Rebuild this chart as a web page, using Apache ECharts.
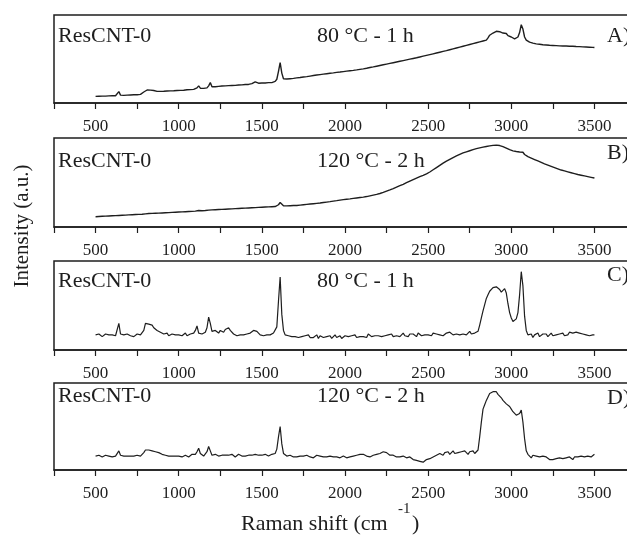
<!DOCTYPE html>
<html><head><meta charset="utf-8">
<script src="https://cdn.jsdelivr.net/npm/echarts@6/dist/echarts.min.js"></script>
<style>html,body{margin:0;padding:0;background:#fff}#c{width:627px;height:541px}</style>
</head><body><div id="c"></div>
<script>
// Raman shift sample positions (cm-1): 500..3500, every 10
const shiftStart = 500, shiftStep = 10, shiftCount = 301;
const ramanShift = [];
for (let i = 0; i < shiftCount; i++) ramanShift.push(shiftStart + i * shiftStep);

const tickLabels = [500, 1000, 1500, 2000, 2500, 3000, 3500];
const sampleNames = ['ResCNT-0', 'ResCNT-0', 'ResCNT-0', 'ResCNT-0'];
const conditions = ['80 °C - 1 h', '120 °C - 2 h', '80 °C - 1 h', '120 °C - 2 h'];
const panelLetters = ['A)', 'B)', 'C)', 'D)'];

// Panel A: 80 °C - 1 h (raw, with fluorescence background)
const panelA = [
7.5,7.6,7.7,7.6,7.8,7.9,7.8,8.0,8.1,8.0,
8.2,8.3,8.2,8.5,13.0,9.0,8.6,8.7,8.8,8.9,
9.0,9.1,9.0,9.3,9.4,9.3,9.6,9.8,10.5,12.5,
14.0,14.8,15.0,14.6,14.8,14.2,13.6,13.2,13.0,13.2,
13.4,13.3,13.5,13.7,13.6,13.8,14.0,13.9,14.1,14.2,
14.3,14.4,14.6,14.5,14.8,15.0,14.9,15.2,15.4,15.5,
15.8,17.2,19.5,16.8,16.4,16.6,16.9,17.2,19.5,23.2,
18.4,18.2,18.5,18.7,18.9,19.0,19.3,19.2,19.5,19.6,
19.8,19.6,19.9,20.1,20.0,20.3,20.4,20.2,20.6,20.8,
21.0,21.2,21.1,21.5,22.0,23.0,24.0,23.2,22.5,22.6,
22.7,22.9,22.8,23.0,23.1,23.3,23.2,23.6,24.5,27.0,
36.0,46.0,34.0,27.5,27.0,27.2,27.4,27.6,27.8,28.0,
28.3,28.5,28.8,29.0,29.3,29.6,29.8,30.0,30.3,30.6,
31.0,31.2,31.5,31.8,32.0,32.3,32.5,32.8,33.0,33.3,
33.6,33.8,34.0,34.2,34.5,34.8,35.0,35.2,35.4,35.7,
36.0,36.2,36.4,36.7,36.9,37.1,37.4,37.6,37.9,38.2,
38.5,38.8,39.2,39.5,39.9,40.3,40.7,41.0,41.4,41.8,
42.2,42.6,43.0,43.4,43.8,44.2,44.6,45.0,45.4,45.8,
46.2,46.6,47.0,47.4,47.8,48.2,48.6,49.0,49.4,49.8,
50.2,50.6,51.0,51.4,51.9,52.3,52.8,53.2,53.7,54.1,
54.5,55.0,55.4,55.9,56.3,56.8,57.2,57.7,58.1,58.6,
59.0,59.5,60.0,60.5,61.0,61.5,62.0,62.5,63.0,63.5,
64.0,64.5,65.0,65.5,66.0,66.5,67.0,67.5,68.0,68.5,
69.0,69.5,70.0,70.5,71.0,71.5,74.0,77.0,78.5,79.5,
81.0,81.5,82.0,81.0,80.0,79.5,80.0,79.0,76.5,75.5,
75.0,74.0,73.0,73.5,75.0,80.0,89.0,84.0,75.0,71.5,
70.0,69.2,68.5,68.0,67.6,67.2,67.0,66.7,66.5,66.2,
66.0,65.9,65.8,65.6,65.5,65.4,65.3,65.2,65.0,64.9,
65.0,64.8,64.7,64.8,64.6,64.5,64.4,64.5,64.3,64.2,
64.0,64.1,63.9,63.8,63.7,63.6,63.5,63.4,63.3,63.2,
63.0];

// Panel B: 120 °C - 2 h (raw)
const panelB = [
11.6,11.7,11.8,11.9,12.0,12.1,12.2,12.3,12.4,12.5,
12.6,12.7,12.8,12.9,13.0,13.1,13.2,13.3,13.4,13.5,
13.6,13.7,13.8,13.9,14.0,14.1,14.2,14.3,14.4,14.6,
14.8,15.0,15.1,15.2,15.3,15.4,15.5,15.6,15.6,15.7,
15.8,15.9,16.0,16.1,16.2,16.3,16.4,16.5,16.6,16.7,
16.8,16.9,17.0,17.1,17.2,17.3,17.4,17.5,17.6,17.7,
17.8,17.9,18.5,18.1,18.2,18.3,18.5,18.7,19.0,19.6,
19.2,19.3,19.4,19.5,19.6,19.7,19.8,19.9,20.0,20.1,
20.2,20.3,20.4,20.5,20.6,20.7,20.8,20.9,21.0,21.1,
21.2,21.3,21.4,21.5,21.6,21.7,21.8,21.9,22.0,22.1,
22.2,22.3,22.4,22.5,22.6,22.7,22.8,22.9,23.0,23.3,
25.0,27.5,25.5,23.8,23.6,23.7,23.8,23.9,24.0,24.1,
24.0,24.2,24.4,24.6,24.8,25.0,25.2,25.4,25.6,25.8,
26.0,26.2,26.4,26.6,26.8,27.0,27.3,27.5,27.7,28.0,
28.2,28.5,28.8,29.1,29.3,29.6,29.9,30.2,30.5,30.8,
31.0,31.2,31.4,31.6,31.8,32.1,32.4,32.6,32.9,33.1,
33.3,33.6,33.9,34.2,34.6,35.0,35.4,35.8,36.2,36.6,
37.0,37.6,38.2,38.9,39.6,40.3,41.0,41.7,42.5,43.2,
44.0,44.8,45.6,46.4,47.2,48.0,48.9,49.8,50.7,51.6,
52.5,53.3,54.1,54.9,55.7,56.5,57.3,58.1,58.9,59.8,
60.6,61.8,63.0,64.3,65.6,66.8,68.0,69.3,70.6,71.8,
73.0,74.0,75.0,76.0,77.0,78.0,78.9,79.8,80.7,81.6,
82.5,83.2,83.8,84.5,85.1,85.7,86.3,86.9,87.4,88.0,
88.5,88.9,89.3,89.7,90.1,90.5,90.8,91.1,91.4,91.7,
92.0,92.0,91.8,91.5,91.0,90.3,89.5,88.7,87.8,86.9,
86.0,85.6,85.2,84.8,84.5,84.2,85.0,84.0,81.5,80.2,
79.0,78.2,77.4,76.6,75.8,75.0,74.2,73.4,72.6,71.8,
71.0,70.3,69.6,68.9,68.2,67.5,66.8,66.1,65.4,64.7,
64.0,63.5,63.0,62.5,62.0,61.5,61.0,60.5,60.0,59.5,
59.0,58.6,58.2,57.8,57.4,57.0,56.6,56.2,55.8,55.4,
55.0];

// Panel C: 80 °C - 1 h (baseline corrected)
const panelC = [
17,16,18,17,15,17,18,16,17,16,
17,18,16,17,30,18,16,17,16,18,
17,16,17,15,17,18,16,17,19,22,
30,32,29,27,28,25,24,22,21,20,
19,18,17,19,16,17,18,16,17,16,
17,18,16,17,19,16,17,18,17,19,
22,27,19,17,18,18,20,25,37,30,
21,20,22,21,19,22,21,20,23,24,
25,22,20,18,17,16,18,17,16,17,
16,18,17,19,20,22,23,21,19,17,
17,16,18,17,16,17,18,19,21,26,
55,82,40,22,17,15,16,14,15,16,
15,17,14,16,15,13,16,15,17,14,
16,14,15,17,13,16,15,14,16,15,
14,16,13,15,17,14,15,16,13,15,
16,14,15,13,16,15,17,14,16,15,
17,15,16,14,18,16,15,17,16,14,
16,18,15,17,16,14,17,16,18,15,
17,16,18,15,17,19,16,17,15,18,
16,18,17,15,19,17,16,18,17,19,
17,18,16,19,17,18,20,17,18,16,
18,19,17,20,18,17,19,18,20,17,
19,18,20,17,19,21,18,20,19,21,
21,28,36,44,51,58,62,66,68,70,
69,71,72,68,65,67,69,64,52,42,
36,32,30,35,42,62,88,72,38,22,
17,15,18,14,17,16,19,15,17,18,
16,18,15,17,19,16,18,17,15,18,
17,19,16,18,17,20,18,19,21,20,
22,19,21,18,20,17,19,16,18,17,
17];

// Panel D: 120 °C - 2 h (baseline corrected)
const panelD = [
16,15,17,16,15,16,17,15,16,16,
15,17,16,16,22,17,15,16,17,16,
15,16,17,16,15,17,16,16,18,20,
23,22,23,21,22,20,21,19,20,19,
18,19,17,18,16,17,16,17,16,15,
16,17,15,16,17,16,15,17,18,20,
18,21,25,19,17,16,18,21,27,22,
17,16,18,17,16,18,17,19,17,18,
17,16,18,17,15,16,18,17,16,17,
16,18,17,16,17,19,18,16,17,16,
17,16,18,17,16,17,18,17,19,24,
38,50,30,19,17,16,15,17,16,15,
16,15,17,16,14,16,15,17,16,15,
16,14,15,17,15,16,14,15,16,15,
15,16,14,15,17,15,16,14,15,16,
15,14,16,15,17,16,18,17,19,18,
20,18,17,16,17,15,16,17,16,18,
17,19,20,21,19,20,18,17,16,17,
16,15,17,15,14,16,15,14,13,15,
14,12,13,11,12,10,11,9,10,12,
11,13,12,15,14,17,16,19,18,17,
20,19,21,18,20,22,19,21,20,18,
21,19,22,20,18,21,20,22,19,21,
23,38,55,70,75,80,84,88,89,90,
91,90,87,86,83,80,79,76,74,73,
70,67,65,63,62,65,69,55,36,22,
18,16,14,17,15,16,14,15,13,16,
14,15,13,12,14,12,11,13,12,14,
12,13,11,14,13,15,14,12,15,14,
15,13,16,14,15,13,16,14,15,14,
18];

const panels = [panelA, panelB, panelC, panelD];

const FONT = '"Liberation Serif", "Times New Roman", serif';
const INK = '#1e1e1e';
const gridBoxes = [
  {top: 15, height: 88},
  {top: 138, height: 89},
  {top: 261, height: 89},
  {top: 383, height: 87}
];
const textY = [38, 163, 283, 398];
const letterY = [38, 155, 277, 400];

const chart = echarts.init(document.getElementById('c'), null, {renderer: 'canvas'});

const grid = gridBoxes.map(g => ({
  left: 54, width: 582, top: g.top, height: g.height,
  outerBoundsMode: 'none', containLabel: false,
  show: true, borderColor: INK, borderWidth: 1.5, backgroundColor: 'transparent'
}));

const xAxis = gridBoxes.map((g, i) => ({
  type: 'value', gridIndex: i, min: 250, max: 3750, interval: 250,
  axisLine: {show: true, lineStyle: {color: INK, width: 1.5}},
  axisTick: {show: true, inside: false, length: 6, lineStyle: {color: INK, width: 1.2}},
  splitLine: {show: false},
  axisLabel: {
    show: true, interval: 0, margin: 15,
    color: INK, fontFamily: FONT, fontSize: 17,
    formatter: v => tickLabels.indexOf(v) >= 0 ? String(v) : ''
  }
}));

const yAxis = gridBoxes.map((g, i) => ({
  type: 'value', gridIndex: i, min: 0, max: 100, show: false
}));

const series = panels.map((arr, i) => ({
  type: 'line', xAxisIndex: i, yAxisIndex: i,
  data: ramanShift.map((x, k) => [x, arr[k]]),
  showSymbol: false, symbol: 'none', smooth: false,
  lineStyle: {color: INK, width: i < 2 ? 1.4 : 1.2},
  animation: false
}));

const graphic = [];
for (let i = 0; i < 4; i++) {
  graphic.push({type: 'text', left: 58, top: textY[i] - 13,
    style: {text: sampleNames[i], fill: INK, font: '22px ' + FONT}});
  graphic.push({type: 'text', left: 317, top: textY[i] - 13,
    style: {text: conditions[i], fill: INK, font: '22px ' + FONT}});
  graphic.push({type: 'text', left: 607, top: letterY[i] - 13,
    style: {text: panelLetters[i], fill: INK, font: '22px ' + FONT}});
}
// axis titles
graphic.push({type: 'text', left: 241, top: 513,
  style: {text: 'Raman shift (cm', fill: INK, font: '22px ' + FONT}});
graphic.push({type: 'text', left: 398, top: 502,
  style: {text: '-1', fill: INK, font: '15px ' + FONT}});
graphic.push({type: 'text', left: 412, top: 513,
  style: {text: ')', fill: INK, font: '22px ' + FONT}});
graphic.push({type: 'text', x: 22, y: 226, rotation: Math.PI / 2,
  style: {text: 'Intensity (a.u.)', fill: INK, font: '21px ' + FONT,
    textAlign: 'center', textVerticalAlign: 'middle'}});

chart.setOption({
  animation: false,
  backgroundColor: '#fff',
  grid, xAxis, yAxis, series, graphic
});
</script>
</body></html>
